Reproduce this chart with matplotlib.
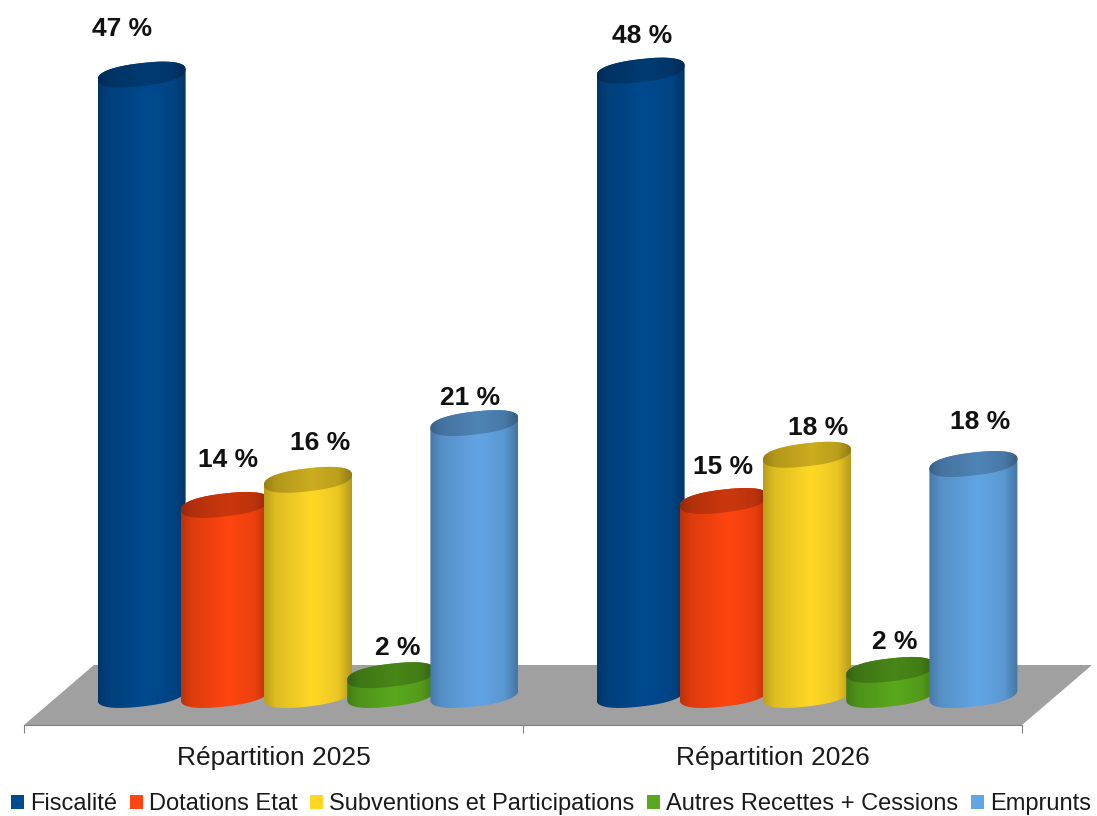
import numpy as np
import matplotlib
matplotlib.use('Agg')
import matplotlib.pyplot as plt
from matplotlib.patches import Patch, PathPatch, Polygon
from matplotlib.path import Path
from matplotlib.colors import to_rgb

categories = ['Répartition 2025', 'Répartition 2026']
series = ['Fiscalité', 'Dotations Etat', 'Subventions et Participations',
          'Autres Recettes + Cessions', 'Emprunts']
# bar heights as measured, the printed labels are rounded and do not always agree
values_2025 = [47.0, 14.4, 16.3, 1.5, 20.6]
values_2026 = [47.3, 14.7, 18.2, 1.9, 17.5]
labels_2025 = [47, 14, 16, 2, 21]
labels_2026 = [48, 15, 18, 2, 18]
colors = ['#004a8f', '#ff4510', '#ffd826', '#5aa81e', '#62a5e4']

# label nudges in pixels, the labels were placed by hand in the original
label_dx_2025 = [-20, 3, 12, 7, -4]
label_dy_2025 = [46, 45, 37, 27, 25]
label_dx_2026 = [2, -1, 11, 5, 7]
label_dy_2026 = [35, 34, 27, 28, 42]

W, H = 1097, 816
CAT_PX = 499.0      # width of one category
PCT_PX = 13.2       # pixels per percent
X0_PX = 273.5       # centre of first category
Y0_PX = 695.0       # bar base line

plt.rcParams['font.family'] = ['Liberation Sans', 'DejaVu Sans']
fig = plt.figure(figsize=(W / 100, H / 100), dpi=100)
ax = fig.add_axes([0, 0, 1, 1])
xlim = (-X0_PX / CAT_PX, (W - X0_PX) / CAT_PX)
ylim = ((Y0_PX - H) / PCT_PX, Y0_PX / PCT_PX)

# depth of the floor, the bars stand half way back
depth_x = 70 / CAT_PX
depth_y = 60 / PCT_PX
floor_y = -30 / PCT_PX
ax.add_patch(Polygon([(-0.5, floor_y), (1.5, floor_y),
                      (1.5 + depth_x, floor_y + depth_y),
                      (-0.5 + depth_x, floor_y + depth_y)],
                     closed=True, fc='#a0a0a0', ec='none', zorder=1))

bar_step = 83.2 / CAT_PX
bar_off = 34.5 / CAT_PX
a = 44 / CAT_PX
b = 11.5 / PCT_PX
slope = (5.0 / PCT_PX) / a
t = np.linspace(0, 2 * np.pi, 181)


def ellipse(cx, cy, tt):
    # slightly squarer than a true ellipse, looks closer to the original caps
    c = np.sign(np.cos(tt)) * np.abs(np.cos(tt)) ** 0.85
    s = np.sign(np.sin(tt)) * np.abs(np.sin(tt)) ** 0.85
    return cx + a * c, cy + b * s + slope * a * c


def gradient(color, shade):
    pos = np.linspace(0, 1, 64)
    prof = np.interp(pos, [0, 0.12, 0.55, 0.85, 1], [0.74, 0.87, 1.0, 0.92, 0.72])
    return (np.array(to_rgb(color))[None, None, :] * (prof * shade)[None, :, None]).clip(0, 1)


def cylinder(cx, height, color, z):
    low = np.linspace(np.pi, 2 * np.pi, 60)
    up = np.linspace(0, np.pi, 60)
    x1, y1 = ellipse(cx, 0, low)
    x2, y2 = ellipse(cx, height, up)
    body = np.column_stack([np.r_[x1, x2], np.r_[y1, y2]])
    extent = (cx - a, cx + a, -b * 2, height + b * 2)
    im = ax.imshow(gradient(color, 1.0), extent=extent, aspect='auto', zorder=z,
                   interpolation='bilinear')
    clip = PathPatch(Path(np.vstack([body, body[0]])), transform=ax.transData)
    im.set_clip_path(clip)
    xt, yt = ellipse(cx, height, t)
    im2 = ax.imshow(gradient(color, 0.8), extent=extent, aspect='auto', zorder=z + 0.5,
                    interpolation='bilinear')
    clip2 = PathPatch(Path(np.column_stack([xt, yt])), transform=ax.transData)
    im2.set_clip_path(clip2)


groups = [(values_2025, labels_2025, label_dx_2025, label_dy_2025),
          (values_2026, labels_2026, label_dx_2026, label_dy_2026)]
for g, (vals, labs, dxs, dys) in enumerate(groups):
    for s, v in enumerate(vals):
        cx = g + bar_off + (s - 2) * bar_step
        cylinder(cx, v, colors[s], 2 + s + g * 10)
        ax.annotate(f'{labs[s]} %', (cx, v), xytext=(dxs[s] * 0.72, dys[s] * 0.72),
                    textcoords='offset points', ha='center', va='center',
                    fontsize=19, fontweight='bold', color='#111111', zorder=40)

ax.set_xlim(xlim)
ax.set_ylim(ylim)

for side in ['top', 'left', 'right']:
    ax.spines[side].set_visible(False)
ax.spines['bottom'].set_position(('data', floor_y))
ax.spines['bottom'].set_bounds(-0.5, 1.5)
ax.spines['bottom'].set_color('#808080')
ax.spines['bottom'].set_zorder(1.5)
ax.patch.set_visible(False)
ax.set_yticks([])
ax.set_xticks([-0.5, 0.5, 1.5])
ax.set_xticklabels([])
ax.tick_params(axis='x', which='major', length=6, color='#808080', width=0.8)
ax.set_xticks([0, 1], minor=True)
ax.set_xticklabels(categories, minor=True)
ax.tick_params(axis='x', which='minor', length=0, labelsize=19, pad=15, labelcolor='#1a1a1a')

handles = [Patch(fc=c, ec='none') for c in colors]
fig.legend(handles, series, loc='center', bbox_to_anchor=(551 / W, 1 - 804 / H), ncol=5,
           frameon=False, fontsize=17, handlelength=0.55, handleheight=0.55,
           handletextpad=0.25, columnspacing=0.55, borderpad=0, labelcolor='#1a1a1a')

fig.savefig('out.png', dpi=100)
